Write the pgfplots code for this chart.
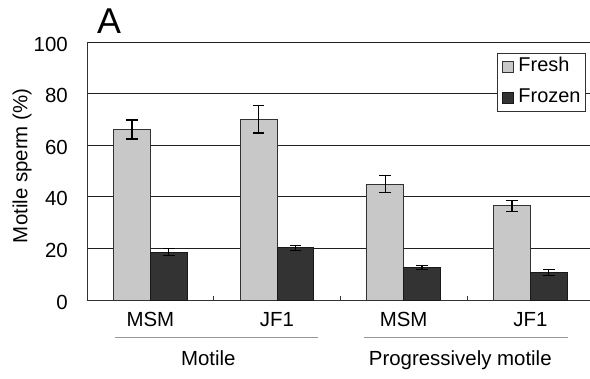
\documentclass[border=0pt]{standalone}
\usepackage{fontspec}
\setmainfont{Liberation Sans}
\usepackage{pgfplots}
\pgfplotsset{compat=1.18}
\definecolor{freshfill}{RGB}{200,200,200}
\definecolor{frozenfill}{RGB}{51,51,51}
\definecolor{edge}{RGB}{50,50,50}
\definecolor{gridc}{RGB}{30,30,30}
\definecolor{grpline}{RGB}{150,150,150}
\begin{document}
\begin{tikzpicture}
\useasboundingbox (0,0) rectangle (590bp,379bp);
\begin{axis}[
  at={(87bp,79bp)}, anchor=south west,
  scale only axis, width=503bp, height=258bp,
  xmin=-0.5, xmax=3.471, ymin=0, ymax=100,
  ybar=0pt, bar width=36.8bp,
  axis x line=bottom, axis y line=left,
  axis line style={-, draw=edge, line width=1bp},
  xtick={0,1,2,3}, xticklabels={MSM,JF1,MSM,JF1},
  minor xtick={0.5,1.5,2.5},
  ytick={0,20,...,100},
  ymajorgrids, major grid style={draw=gridc, line width=0.9bp},
  major tick length=0pt, minor tick length=4bp, tick align=inside,
  minor tick style={draw=edge, line width=0.8bp},
  /pgf/number format/assume math mode=true,
  ticklabel style={font=\fontsize{20.5}{24}\selectfont, inner sep=0pt},
  xticklabel style={anchor=base, yshift=-26.7bp},
  yticklabel style={anchor=east, xshift=-19bp, yshift=-2bp},
  ylabel={Motile sperm (\%)},
  ylabel style={at={(axis description cs:-0.1183,0.520)}, anchor=base, inner sep=0pt, font=\fontsize{20.5}{24}\selectfont},
  legend style={at={(rel axis cs:0.992,0.958)}, anchor=north east,
    draw=edge, line width=1bp, fill=white, font=\fontsize{20}{24}\selectfont,
    inner xsep=4bp, inner ysep=2.5bp, row sep=9bp,
    nodes={inner sep=1bp, text height=15bp, text depth=5bp},
    /tikz/every odd column/.append style={column sep=4bp}},
  legend cell align=left,
  legend image code/.code={\draw[#1, line width=0.8bp] (0bp,-5.5bp) rectangle (11bp,5.5bp);},
  clip=false,
]
\addplot[fill=freshfill, draw=edge, line width=1bp,
  error bars/.cd, y dir=both, y explicit,
  error bar style={draw=black, line width=1.2bp},
  error mark options={rotate=90, mark size=5.8bp, line width=1.2bp, draw=black}]
  coordinates {(0,66.1) +- (0,3.7) (1,70.1) +- (0,5.4) (2,44.9) +- (0,3.3) (3,36.5) +- (0,2.2)};
\addplot[fill=frozenfill, draw=black!90, line width=1bp,
  error bars/.cd, y dir=both, y explicit,
  error bar style={draw=black, line width=1.2bp},
  error mark options={rotate=90, mark size=5.8bp, line width=1.2bp, draw=black}]
  coordinates {(0,18.6) +- (0,1.45) (1,20.2) +- (0,0.95) (2,12.6) +- (0,0.75) (3,10.6) +- (0,1.25)};
\legend{Fresh,Frozen}
\end{axis}
\draw[grpline, line width=1bp] (115bp,41.7bp) -- (318.3bp,41.7bp);
\draw[grpline, line width=1bp] (364bp,41.7bp) -- (568.3bp,41.7bp);
\node[anchor=base, inner sep=0pt] at (208.3bp,14bp) {\fontsize{20.5}{24}\selectfont Motile};
\node[anchor=base, inner sep=0pt] at (460.3bp,14bp) {\fontsize{20.5}{24}\selectfont Progressively motile};
\node[anchor=base, inner sep=0pt] at (109bp,345.7bp) {\fontsize{36}{40}\selectfont A};
\end{tikzpicture}
\end{document}
